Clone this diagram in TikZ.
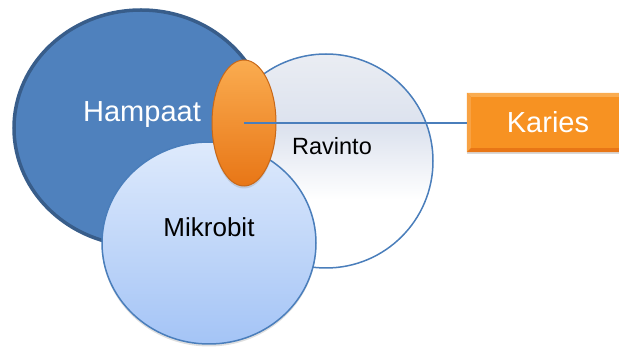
\documentclass[tikz,border=0pt]{standalone}
\usepackage{fontspec}
\setmainfont{Liberation Sans}
\usetikzlibrary{shapes.geometric,shadows}

\definecolor{tummasin}{RGB}{79,129,189}
\definecolor{tummareuna}{RGB}{56,93,138}
\definecolor{reuna}{RGB}{74,126,187}
\definecolor{mikroyla}{RGB}{222,234,252}
\definecolor{mikroala}{RGB}{164,196,246}
\definecolor{ravkeski}{RGB}{220,226,238}
\definecolor{ravyla}{RGB}{234,237,243}
\definecolor{oranssi}{RGB}{247,146,34}
\definecolor{oranssivalo}{RGB}{250,172,80}
\definecolor{oranssitumma}{RGB}{232,118,22}
\definecolor{oranssireuna}{RGB}{200,104,24}

% light band in the upper half, white below
\pgfdeclareverticalshading{ravinto}{100bp}{color(0bp)=(white); color(41bp)=(white);
  color(58bp)=(ravkeski); color(75bp)=(ravyla); color(100bp)=(ravyla)}

\begin{document}
\begin{tikzpicture}[x=1pt,y=-1pt,
    nimi/.style={anchor=base,inner sep=0pt},
    varjo/.style={drop shadow={shadow xshift=0pt,shadow yshift=-2.5pt,opacity=0.25}}]
  \useasboundingbox (0,0) rectangle (619,347);
  \clip (0,0) rectangle (619,347);

  % the three circles
  \draw[line width=3.5pt,draw=tummareuna,fill=tummasin] (141,128) ellipse [x radius=127, y radius=118];
  \shade[draw=reuna,line width=1.5pt,shading=ravinto] (326,161) circle [radius=107];
  \shade[draw=reuna,line width=1.5pt,top color=mikroyla,bottom color=mikroala,varjo]
    (209,243) ellipse [x radius=107, y radius=101];

  % overlap in the middle
  \node[ellipse,minimum width=64pt,minimum height=126pt,inner sep=0pt,line width=1pt,
        draw=oranssireuna,top color=oranssivalo,middle color=oranssi,bottom color=oranssitumma,
        varjo] (pisara) at (244,123) {};

  % result box, runs past the right edge
  \node[minimum width=162pt,minimum height=59pt,inner sep=0pt,fill=oranssi,text=white,
        font=\fontsize{29}{34}\selectfont,
        drop shadow={shadow xshift=0pt,shadow yshift=-2pt,opacity=0.3}] (karies) at (548,122.5) {Karies};
  \fill[oranssivalo] (karies.north west) -- (karies.north east)
    -- ([xshift=-4pt,yshift=-4pt]karies.north east) -- ([xshift=4pt,yshift=-4pt]karies.north west) -- cycle;
  \fill[oranssi!85!white] (karies.north west) -- ([xshift=4pt,yshift=-4pt]karies.north west)
    -- ([xshift=4pt,yshift=4pt]karies.south west) -- (karies.south west) -- cycle;
  \fill[oranssitumma] (karies.south west) -- (karies.south east)
    -- ([xshift=-4pt,yshift=4pt]karies.south east) -- ([xshift=4pt,yshift=4pt]karies.south west) -- cycle;

  \draw[reuna,line width=1.5pt] (pisara.center) -- (pisara.center -| karies.west);

  % labels
  \node[nimi,text=white,font=\fontsize{29}{34}\selectfont] (hampaat) at (142,122) {Hampaat};
  \node[nimi,font=\fontsize{23.5}{28}\selectfont] (ravinto) at (332,155) {Ravinto};
  \node[nimi,font=\fontsize{26}{31}\selectfont] (mikrobit) at (209,237) {Mikrobit};
\end{tikzpicture}
\end{document}
